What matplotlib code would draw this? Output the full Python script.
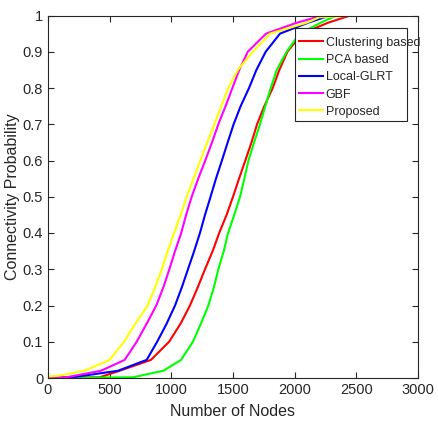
import matplotlib
matplotlib.use("Agg")
import matplotlib.pyplot as plt
from matplotlib.patches import Rectangle

plt.rcParams["font.family"] = ["Liberation Sans", "DejaVu Sans"]

# probability levels
levels = [0.0, 0.002, 0.02, 0.05, 0.1, 0.15, 0.2, 0.25, 0.3, 0.35, 0.4,
          0.45, 0.5, 0.55, 0.6, 0.65, 0.7, 0.75, 0.8, 0.85, 0.9, 0.95,
          0.98, 1.0]
proposed_levels = [0.004, 0.006] + levels[2:-1] + [0.995, 1.0]

# number of nodes at which each curve reaches the levels above
nodes_clustering = [0, 420, 581, 835, 982, 1075, 1151, 1214, 1273, 1335,
                    1388, 1448, 1500, 1549, 1600, 1650, 1695, 1754, 1822,
                    1876, 1941, 2060, 2270, 2450]
nodes_pca = [0, 690, 935, 1079, 1175, 1240, 1300, 1345, 1381, 1425, 1460,
             1510, 1557, 1592, 1625, 1671, 1719, 1762, 1806, 1855, 1935,
             2040, 2211, 2340]
nodes_glrt = [0, 200, 568, 800, 885, 962, 1030, 1085, 1135, 1185, 1232,
              1273, 1318, 1362, 1410, 1457, 1505, 1562, 1630, 1690, 1765,
              1881, 2108, 2286]
nodes_gbf = [0, 150, 430, 622, 719, 800, 878, 935, 984, 1030, 1080, 1120,
             1165, 1218, 1275, 1330, 1381, 1440, 1495, 1551, 1620, 1768,
             2016, 2230]
nodes_proposed = [0, 80, 297, 500, 616, 708, 808, 868, 923, 970, 1023,
                  1075, 1125, 1180, 1235, 1292, 1350, 1405, 1462, 1540,
                  1660, 1800, 2097, 2200, 2500]

labels = ["Clustering based", "PCA based", "Local-GLRT", "GBF", "Proposed"]
colors = ["#ff0000", "#00ff00", "#0000ff", "#ff00ff", "#ffff00"]

fig = plt.figure(figsize=(4.38, 4.25), dpi=100)
ax = fig.add_axes([48 / 438, 47 / 425, 370 / 438, 362.5 / 425])

series = [
    (nodes_clustering, levels),
    (nodes_pca, levels),
    (nodes_glrt, levels),
    (nodes_gbf, levels),
    (nodes_proposed, proposed_levels),
]
for (xs, ys), lab, col in zip(series, labels, colors):
    ax.plot(xs, ys, color=col, lw=1.5, label=lab)

ax.set_xlim(0, 3000)
ax.set_ylim(0, 1)
ax.set_xticks(range(0, 3001, 500))
ax.set_yticks([i / 10 for i in range(11)])
ax.set_yticklabels(["0", "0.1", "0.2", "0.3", "0.4", "0.5", "0.6", "0.7",
                    "0.8", "0.9", "1"])

dark = "#262626"
for s in ax.spines.values():
    s.set_color(dark)
    s.set_linewidth(0.8)
ax.tick_params(direction="in", top=True, right=True, length=4,
               color=dark, labelcolor=dark, labelsize=10.5, width=0.8)

ax.set_xlabel("Number of Nodes", fontsize=11.5, color=dark, labelpad=5)
ax.set_ylabel("Connectivity Probability", fontsize=11.5, color=dark, labelpad=2)

# legend box is narrower than its text, as in the original figure
box_left, box_right = 247 / 370, 359 / 370
box_bottom, box_top = 257 / 362.5, 350 / 362.5
ax.add_patch(Rectangle((box_left, box_bottom), box_right - box_left,
                       box_top - box_bottom, transform=ax.transAxes,
                       facecolor="white", edgecolor=dark, lw=0.8,
                       zorder=4, clip_on=False))
leg = ax.legend(loc="upper left", bbox_to_anchor=(242 / 370, box_top),
                borderaxespad=0, fontsize=9, frameon=False,
                handlelength=1.9, handletextpad=0.25, labelspacing=0.42,
                borderpad=0.7)
leg.set_zorder(5)
for t in leg.get_texts():
    t.set_color(dark)

fig.savefig("out.png", dpi=100)
